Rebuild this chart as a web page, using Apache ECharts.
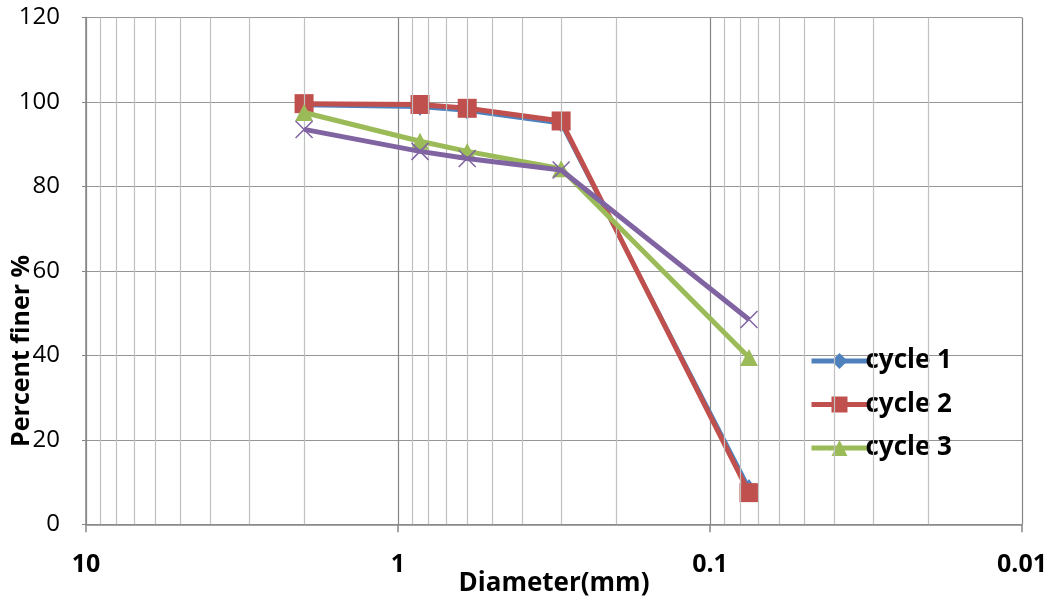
<!DOCTYPE html>
<html>
<head>
<meta charset="utf-8">
<script src="https://cdn.jsdelivr.net/npm/echarts@6/dist/echarts.min.js"></script>
<style>
html,body{margin:0;padding:0;background:#fff;}
#chart{width:1054px;height:603px;}
</style>
</head>
<body>
<div id="chart"></div>
<script>
// ---- data ----
var diameters = [2, 0.85, 0.6, 0.3, 0.075];
var cycle1 = [99.2, 98.8, 97.9, 94.9, 8.6];
var cycle2 = [99.6, 99.4, 98.5, 95.5, 7.5];
var cycle3 = [97.5, 90.7, 88.3, 84.2, 39.5];
var cycle4 = [93.5, 88.3, 86.6, 83.9, 48.5];
var seriesNames = ['cycle 1', 'cycle 2', 'cycle 3', 'cycle 4'];
var legendNames = ['cycle 1', 'cycle 2', 'cycle 3'];
var xTicks = [10, 1, 0.1, 0.01];
var xTickLabels = ['10', '1', '0.1', '0.01'];
var yTicks = [0, 20, 40, 60, 80, 100, 120];

function pairs(xs, ys) { return xs.map(function (x, i) { return [x, ys[i]]; }); }

// minor log gridlines (2..9 within each decade)
var minorGrid = [];
[1, 0.1, 0.01].forEach(function (d) {
  for (var k = 2; k <= 9; k++) minorGrid.push(+(k * d).toPrecision(3));
});

var FONT = '"Open Sans", "Liberation Sans", sans-serif';
var chart = echarts.init(document.getElementById('chart'));
chart.setOption({
  animation: false,
  backgroundColor: '#ffffff',
  grid: { left: 86, right: 32, top: 17.5, bottom: 78.7, containLabel: false, outerBoundsMode: 'none' },
  legend: {
    data: legendNames,
    orient: 'vertical',
    left: 804,
    top: 343,
    itemWidth: 56,
    itemHeight: 20,
    itemGap: 17.5,
    lineStyle: { width: 5 },
    textStyle: { fontFamily: FONT, fontSize: 26, fontWeight: 'bold', color: '#000', padding: [0, 0, 0, -7] }
  },
  xAxis: {
    type: 'log',
    logBase: 10,
    min: 0.01,
    max: 10,
    inverse: true,
    name: 'Diameter(mm)',
    nameLocation: 'middle',
    nameGap: 46,
    nameMoveOverlap: false,
    nameTextStyle: { fontFamily: FONT, fontSize: 26, fontWeight: 'bold', color: '#000' },
    axisLine: { show: true, lineStyle: { color: '#868686', width: 1.5 } },
    axisTick: { show: true, inside: false, length: 8, lineStyle: { color: '#868686', width: 1.5 } },
    axisLabel: {
      fontFamily: FONT, fontSize: 25, fontWeight: 'bold', color: '#000', margin: 28,
      formatter: function (v) {
        var best = 0, bd = Infinity;
        xTicks.forEach(function (t, i) { var d = Math.abs(Math.log10(t) - Math.log10(v)); if (d < bd) { bd = d; best = i; } });
        return xTickLabels[best];
      }
    },
    splitLine: { show: true, lineStyle: { color: '#868686', width: 1.2 } }
  },
  yAxis: {
    type: 'value',
    min: yTicks[0],
    max: yTicks[yTicks.length - 1],
    interval: 20,
    name: 'Percent finer %',
    nameLocation: 'middle',
    nameGap: 52,
    nameRotate: 90,
    nameMoveOverlap: false,
    nameTextStyle: { fontFamily: FONT, fontSize: 25, fontWeight: 'bold', color: '#000', padding: [0, 160, 0, 0] },
    axisLine: { show: true, lineStyle: { color: '#868686', width: 1.5 } },
    axisTick: { show: true, length: 4, lineStyle: { color: '#868686' } },
    axisLabel: { fontFamily: FONT, fontSize: 24, color: '#000', margin: 26 },
    splitLine: { show: true, lineStyle: { color: '#969696', width: 1.2 } }
  },
  series: [
    {
      name: '_minor', type: 'line', data: [], z: 1, silent: true,
      markLine: {
        silent: true, symbol: ['none', 'none'], label: { show: false },
        lineStyle: { color: '#c0c0c0', width: 1.2, type: 'solid' },
        emphasis: { disabled: true },
        data: minorGrid.map(function (v) { return { xAxis: v }; })
      }
    },
    {
      name: seriesNames[0], type: 'line', data: pairs(diameters, cycle1), z: 3,
      symbol: 'diamond', symbolSize: [13, 18],
      lineStyle: { color: '#4f81bd', width: 4 }, itemStyle: { color: '#4f81bd' }
    },
    {
      name: seriesNames[1], type: 'line', data: pairs(diameters, cycle2), z: 4,
      symbol: 'rect', symbolSize: 19,
      lineStyle: { color: '#c0504d', width: 5 }, itemStyle: { color: '#c0504d' }
    },
    {
      name: seriesNames[2], type: 'line', data: pairs(diameters, cycle3), z: 5,
      symbol: 'triangle', symbolSize: [18, 17],
      lineStyle: { color: '#9bbb59', width: 5 }, itemStyle: { color: '#9bbb59' }
    },
    {
      name: seriesNames[3], type: 'line', data: pairs(diameters, cycle4), z: 6,
      symbol: 'path://M0,0L10,10M10,0L0,10', symbolSize: 17,
      lineStyle: { color: '#8064a2', width: 5 },
      itemStyle: { color: 'none', borderColor: '#8064a2', borderWidth: 1.5 }
    }
  ]
});
</script>
</body>
</html>
